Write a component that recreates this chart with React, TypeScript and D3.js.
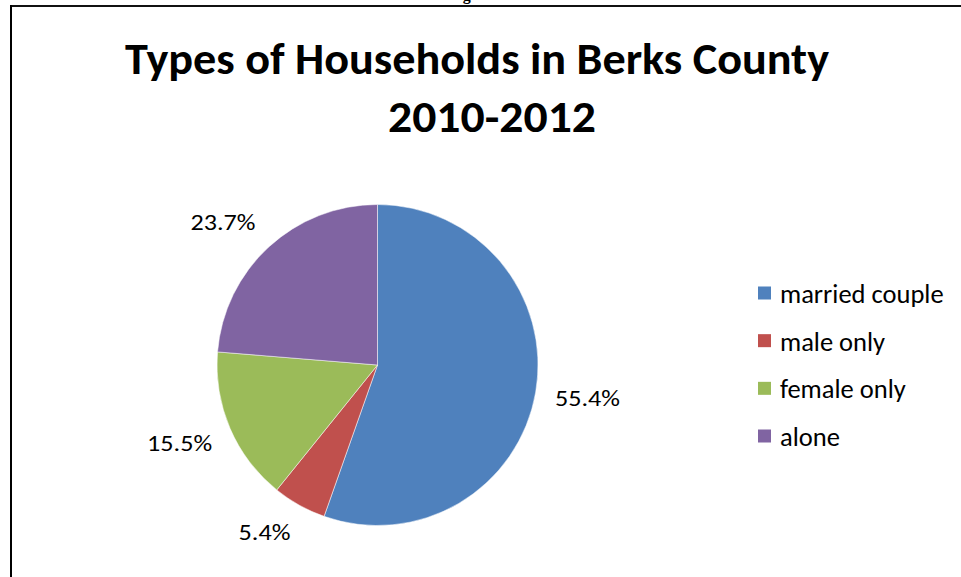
import React from "react";
import * as d3 from "d3";

const categories = ["married couple", "male only", "female only", "alone"];
const values = [55.4, 5.4, 15.5, 23.7];
const labels = ["55.4%", "5.4%", "15.5%", "23.7%"];
const colors = ["#4F81BD", "#C0504D", "#9BBB59", "#8064A2"];
const titleLines = ["Types of Households in Berks County", "2010-2012"];

const W = 961;
const H = 577;
const FONT = "Carlito, Calibri, Lato, 'Open Sans', sans-serif";

export default function App() {
  const cx = 377.5;
  const cy = 365;
  const r = 160.5;
  const pie = d3.pie<number>().sort(null).value((d) => d);
  const arcs = pie(values);
  const arc = d3.arc<d3.PieArcDatum<number>>().innerRadius(0).outerRadius(r);
  const labelR = 180;
  const legendY = d3.scalePoint<string>().domain(categories).range([293, 436]);
  const clamp = (v: number) => Math.max(-1, Math.min(1, v));

  return (
    <svg
      width={W}
      height={H}
      style={{ position: "absolute", left: 0, top: 0, background: "#fff" }}
    >
      <rect x={0} y={0} width={W} height={H} fill="#fff" />
      <text
        x={471}
        y={0}
        textAnchor="middle"
        fontFamily="'Liberation Serif', serif"
        fontWeight="bold"
        fontSize={16}
        fill="#000"
      >
        Figure
      </text>
      <line x1={10} y1={6} x2={W} y2={6} stroke="#111" strokeWidth={2} />
      <line x1={11} y1={5} x2={11} y2={H} stroke="#000" strokeWidth={2} />
      <text
        x={477}
        y={74}
        textAnchor="middle"
        fontFamily={FONT}
        fontWeight="bold"
        fontSize={44}
        textLength={704}
        lengthAdjust="spacingAndGlyphs"
        fill="#000"
      >
        {titleLines[0]}
      </text>
      <text
        x={492}
        y={132}
        textAnchor="middle"
        fontFamily={FONT}
        fontWeight="bold"
        fontSize={44}
        textLength={208}
        lengthAdjust="spacingAndGlyphs"
        fill="#000"
      >
        {titleLines[1]}
      </text>
      <g transform={`translate(${cx},${cy})`}>
        {arcs.map((a, i) => (
          <path key={i} d={arc(a) || ""} fill={colors[i]} stroke="#fff" strokeWidth={0.5} />
        ))}
        {arcs.map((a, i) => {
          const mid = (a.startAngle + a.endAngle) / 2;
          const dx = Math.sin(mid);
          const dy = -Math.cos(mid);
          const w = labels[i].length * 13;
          const h = 20;
          const px = dx * labelR + (w / 2) * clamp(dx * 2);
          const py = dy * labelR + (h / 2) * clamp(dy * 2);
          return (
            <text
              key={i}
              x={px}
              y={py}
              textAnchor="middle"
              dominantBaseline="central"
              fontFamily={FONT}
              fontSize={22}
              textLength={w}
              lengthAdjust="spacingAndGlyphs"
              fill="#000"
            >
              {labels[i]}
            </text>
          );
        })}
      </g>
      <g>
        {categories.map((c, i) => {
          const y = legendY(c) as number;
          return (
            <g key={c}>
              <rect x={758} y={y - 6.5} width={13} height={13} fill={colors[i]} />
              <text
                x={780}
                y={y + 1}
                dominantBaseline="central"
                fontFamily={FONT}
                fontSize={26.5}
                fill="#000"
              >
                {c}
              </text>
            </g>
          );
        })}
      </g>
    </svg>
  );
}
